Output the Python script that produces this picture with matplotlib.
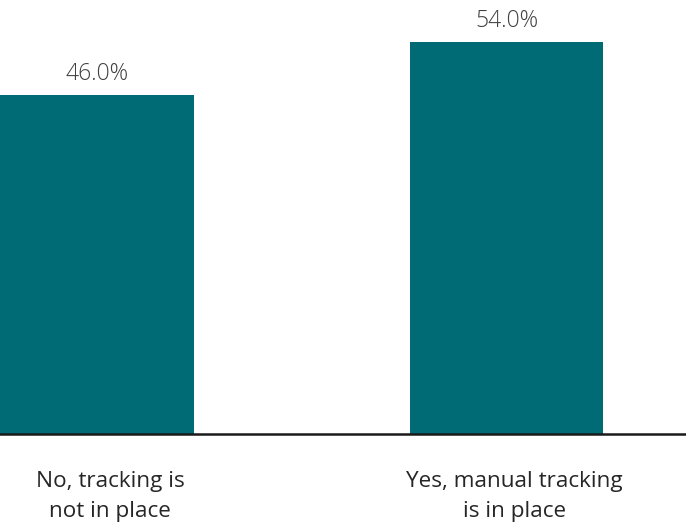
import matplotlib.pyplot as plt
import matplotlib.transforms as mtransforms

categories = ["No, tracking is\nnot in place", "Yes, manual tracking\nis in place"]
values = [46.0, 54.0]

plt.rcParams['font.family'] = ['Open Sans', 'DejaVu Sans']

fig = plt.figure(figsize=(6.86, 5.27), dpi=100)
base = 434 / 527
ax = fig.add_axes([0, 1 - base, 1, base])

y0 = -5.17
x = list(range(len(values)))
ax.bar(x, [v - y0 for v in values], bottom=y0, width=0.4725, color="#006B75")
for xi, v in zip(x, values):
    ax.annotate("{:.1f}%".format(v), (xi, v), xytext=(0, 10.5),
                textcoords="offset points", ha="center", va="baseline",
                fontsize=16.5, fontweight="light", color="#404040")

ax.set_xlim(-0.237, 1.438)
ax.set_ylim(y0, 60.34)
ax.set_yticks([])
ax.set_xticks(x)
ax.set_xticklabels(categories, fontsize=16.2, color="#262626", linespacing=1.55)
ax.tick_params(axis="x", length=0, pad=27)
# labels sit a little right of the bar centres in the original
for lab, dx in zip(ax.get_xticklabels(), [13, 7.5]):
    lab.set_transform(lab.get_transform() +
                      mtransforms.ScaledTranslation(dx / 100, 0, fig.dpi_scale_trans))
for s in ["top", "right", "left"]:
    ax.spines[s].set_visible(False)
ax.spines["bottom"].set_linewidth(1.8)
ax.spines["bottom"].set_color("#1a1a1a")

fig.savefig("out.png", dpi=100)
